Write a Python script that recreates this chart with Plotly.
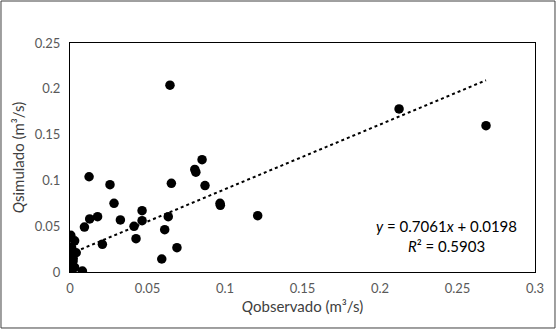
import plotly.graph_objects as go

q_obs = [0.0645, 0.0123, 0.0258, 0.0284, 0.0178, 0.0127, 0.0093, 0.0325, 0.0209,
         0.0413, 0.0426, 0.0465, 0.0465, 0.0592, 0.0611, 0.0634, 0.0654, 0.0690,
         0.0805, 0.0812, 0.0852, 0.0871, 0.0968, 0.0970, 0.1211, 0.2123, 0.2684,
         0.0080,
         0.0005, 0.0030, 0.0010, 0.0040, 0.0000, 0.0020, 0.0010, 0.0030, 0.0000,
         0.0010, 0.0020, 0.0000]
q_sim = [0.2040, 0.1040, 0.0953, 0.0750, 0.0604, 0.0579, 0.0490, 0.0568, 0.0302,
         0.0499, 0.0364, 0.0670, 0.0560, 0.0142, 0.0462, 0.0604, 0.0968, 0.0266,
         0.1120, 0.1090, 0.1226, 0.0943, 0.0750, 0.0728, 0.0615, 0.1780, 0.1597,
         0.0010,
         0.0400, 0.0340, 0.0270, 0.0210, 0.0170, 0.0120, 0.0080, 0.0050, 0.0020,
         0.0000, 0.0150, 0.0240]

slope = 0.7061
intercept = 0.0198
r2 = 0.5903

x_ticks = [0, 0.05, 0.1, 0.15, 0.2, 0.25, 0.3]
x_ticklabels = ["0", "0.05", "0.1", "0.15", "0.2", "0.25", "0.3"]
y_ticks = [0, 0.05, 0.1, 0.15, 0.2, 0.25]
y_ticklabels = ["0", "0.05", "0.1", "0.15", "0.2", "0.25"]

font_family = "Lato, 'Open Sans', sans-serif"

fig = go.Figure()
trend_x = [min(q_obs), max(q_obs)]
trend_y = [slope * v + intercept for v in trend_x]
fig.add_trace(go.Scatter(x=trend_x, y=trend_y, mode="lines",
                         line=dict(color="black", width=2, dash="dot"),
                         hoverinfo="skip", showlegend=False))
fig.add_trace(go.Scatter(x=q_obs, y=q_sim, mode="markers",
                         marker=dict(color="black", size=9.5),
                         showlegend=False))

fig.add_annotation(x=0.2432, y=0.0395, xref="x", yref="y",
                   text=f"<i>y</i> = {slope}<i>x</i> + {intercept}<br><i>R</i>² = {r2}",
                   showarrow=False, align="center",
                   font=dict(family=font_family, size=15, color="black"))

# outer chart border
fig.add_shape(type="rect", xref="paper", yref="paper",
              x0=-0.1484, x1=1.0430, y0=-0.2445, y1=1.1834,
              line=dict(color="#404040", width=1), layer="below")

fig.update_layout(
    width=557, height=330,
    margin=dict(l=70, r=22, t=43, b=58),
    paper_bgcolor="white", plot_bgcolor="white",
    font=dict(family=font_family, size=13, color="#595959"),
    xaxis=dict(range=[0, 0.3], tickvals=x_ticks, ticktext=x_ticklabels,
               showgrid=False, zeroline=False, showline=True, mirror=True,
               linecolor="black", linewidth=1, ticks="",
               tickfont=dict(size=13, color="#595959"), ticklabelstandoff=4,
               title=dict(text="<i>Q</i>observado (m³/s)", standoff=6,
                          font=dict(size=15, color="#404040"))),
    yaxis=dict(range=[0, 0.25], tickvals=y_ticks, ticktext=y_ticklabels,
               showgrid=False, zeroline=False, showline=True, mirror=True,
               linecolor="black", linewidth=1, ticks="",
               tickfont=dict(size=13, color="#595959"), ticklabelstandoff=6,
               title=dict(text="<i>Q</i>simulado (m³/s)", standoff=6,
                          font=dict(size=15, color="#404040"))),
)

fig.write_html("out.html", config={"displayModeBar": False},
               post_script="document.body.style.margin='0';")
